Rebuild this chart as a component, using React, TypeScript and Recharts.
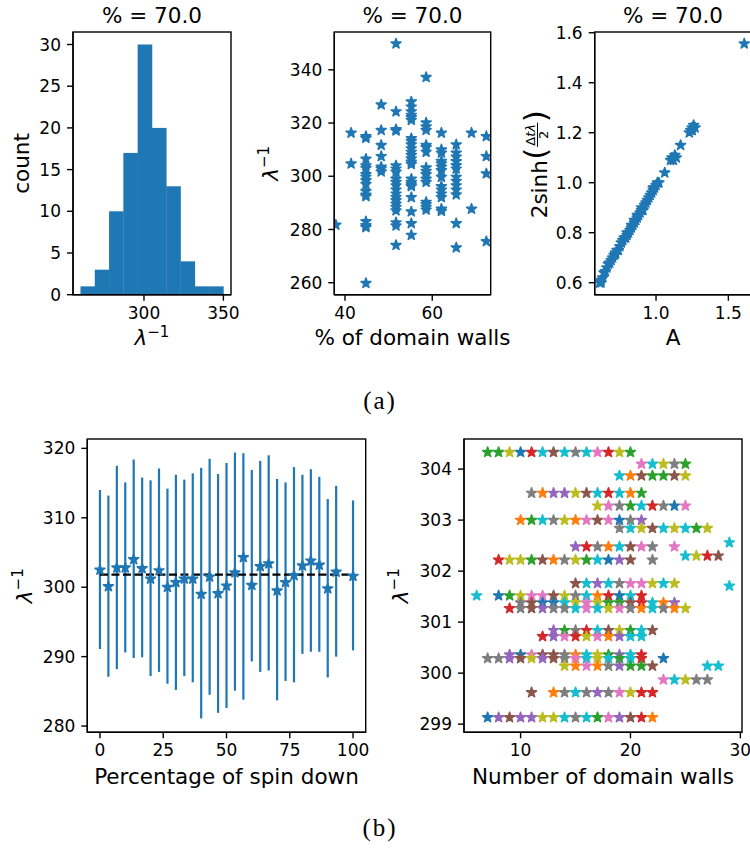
import React from "react";
import {
  ComposedChart,
  ScatterChart,
  Scatter,
  Bar,
  XAxis,
  YAxis,
  ErrorBar,
  ReferenceLine,
} from "recharts";

const FONT = "DejaVu Sans";
const BLUE = "#1f77b4";

// tab10 colour codes used by the domain-wall rows
const TAB10: Record<string, string> = {
  b: "#1f77b4",
  o: "#ff7f0e",
  g: "#2ca02c",
  r: "#d62728",
  p: "#9467bd",
  n: "#8c564b",
  k: "#e377c2",
  a: "#7f7f7f",
  y: "#bcbd22",
  c: "#17becf",
};

// (a) left: histogram of lambda^-1
const BIN_EDGES = [260.2, 269.2, 278.2, 287.2, 296.2, 305.2, 314.2, 323.2, 332.2, 341.2, 350.2];
const BIN_COUNTS = [1, 3, 10, 17, 30, 20, 13, 4, 1, 1];

// (a) middle: lambda^-1 vs % of domain walls
const DW_PCT = [37.9, 41.4, 44.8, 48.3, 51.7, 55.2, 58.6, 62.1, 65.5, 69.0, 72.4];
const DW_LAM = [
  [281.7],
  [316.3, 304.7],
  [315.0, 314.3, 306.5, 304.0, 303.0, 300.7, 299.7, 298.4, 297.0, 294.4, 293.0, 292.4, 283.0, 281.5, 280.8, 259.8],
  [326.9, 317.3, 311.7, 307.5, 303.5, 302.8, 301.7],
  [349.8, 324.3, 317.6, 317.1, 304.0, 302.8, 301.6, 299.0, 297.8, 296.5, 294.9, 293.4, 292.1, 290.9, 289.6, 288.4, 287.1, 282.6, 281.4, 274.1],
  [328.0, 326.1, 324.3, 323.0, 322.1, 321.1, 314.2, 313.2, 311.9, 310.4, 309.1, 307.9, 306.6, 305.4, 304.5, 299.0, 297.8, 296.9, 296.2, 292.1, 286.7, 282.3, 277.9],
  [337.2, 320.1, 318.6, 317.3, 311.7, 310.8, 309.1, 303.2, 301.9, 300.7, 299.0, 297.8, 290.3, 289.4, 288.4, 287.4],
  [316.3, 310.0, 308.8, 305.7, 304.7, 303.5, 302.2, 299.7, 296.2, 294.9, 293.4, 292.1, 287.7, 286.9],
  [311.9, 308.8, 307.3, 305.6, 304.1, 302.8, 299.7, 298.2, 296.5, 294.9, 293.1, 282.3, 273.2],
  [316.3, 287.7],
  [315.0, 307.5, 301.0, 275.5],
];

// (a) right: 2sinh(dt*lambda/2) vs A
const AMP = [
  0.61, 0.62, 0.62, 0.63, 0.64, 0.65, 0.66, 0.67, 0.68, 0.69, 0.7, 0.71, 0.72, 0.72, 0.73, 0.74,
  0.75, 0.76, 0.77, 0.78, 0.79, 0.8, 0.8, 0.81, 0.82, 0.83, 0.83, 0.84, 0.85, 0.85, 0.86, 0.87,
  0.87, 0.88, 0.89, 0.9, 0.9, 0.91, 0.92, 0.93, 0.94, 0.95, 0.96, 0.97, 0.98, 0.98, 0.99, 1.0,
  1.01, 1.02, 1.06, 1.1, 1.11, 1.12, 1.13, 1.14, 1.17, 1.23, 1.24, 1.25, 1.25, 1.26, 1.27, 1.61,
];
const SINH = [
  0.6, 0.6, 0.61, 0.62, 0.64, 0.645, 0.66, 0.675, 0.68, 0.69, 0.7, 0.71, 0.72, 0.715, 0.73, 0.73,
  0.745, 0.76, 0.77, 0.78, 0.78, 0.79, 0.8, 0.8, 0.81, 0.82, 0.83, 0.83, 0.84, 0.85, 0.85, 0.86,
  0.87, 0.87, 0.88, 0.89, 0.9, 0.89, 0.91, 0.92, 0.93, 0.94, 0.95, 0.96, 0.97, 0.98, 0.98, 0.99,
  1.0, 1.0, 1.04, 1.09, 1.1, 1.09, 1.11, 1.1, 1.15, 1.2, 1.21, 1.22, 1.21, 1.23, 1.22, 1.556,
];

// (b) left: lambda^-1 vs percentage of spin down, with error bars
const SPIN_PCT = [
  0, 3.33, 6.67, 10, 13.33, 16.67, 20, 23.33, 26.67, 30, 33.33, 36.67, 40, 43.33, 46.67,
  50, 53.33, 56.67, 60, 63.33, 66.67, 70, 73.33, 76.67, 80, 83.33, 86.67, 90, 93.33, 100,
];
const SPIN_LAM = [
  302.5, 300.1, 302.8, 302.8, 304.0, 302.7, 301.2, 302.4, 300.0, 300.7, 301.2, 301.2, 299.0, 301.5, 299.1,
  300.2, 302.1, 304.3, 300.3, 303.0, 303.4, 299.5, 300.7, 301.7, 303.1, 303.8, 303.2, 299.8, 302.2, 301.6,
];
const SPIN_HI = [
  314.0, 313.2, 317.5, 315.1, 318.4, 315.8, 315.4, 317.1, 314.2, 316.2, 315.5, 316.4, 317.2, 318.5, 316.3,
  317.9, 319.4, 319.3, 316.9, 318.2, 319.0, 315.6, 315.1, 317.3, 316.2, 317.0, 315.9, 312.7, 314.6, 312.5,
];
const SPIN_LO = [
  291.1, 287.1, 288.2, 290.6, 289.8, 289.9, 287.2, 287.8, 286.1, 285.2, 287.2, 286.3, 281.1, 284.5, 281.9,
  282.6, 285.1, 283.8, 289.3, 287.8, 288.0, 283.7, 286.5, 286.3, 290.4, 290.7, 290.7, 287.0, 290.0, 290.9,
];
const SPIN_MEAN = 301.8;

// (b) right: rows of [lambda^-1, first number of walls, colours of consecutive points]
const WALL_ROWS: [number, number, string][] = [
  [304.33, 7, "ggybrcncackryg"],
  [304.1, 21, "kcyag"],
  [303.87, 19, "conggny"],
  [303.53, 11, "aoppyncrcog"],
  [303.28, 17, "ykagcrabk"],
  [303.0, 10, "ogcayoknkbap"],
  [302.84, 19, "acyncycgy"],
  [302.48, 15, "praocnka"],
  [302.48, 24, "k"],
  [302.3, 25, "cyrn"],
  [302.56, 29, "c"],
  [302.22, 8, "ryygnoaygcbpn"],
  [302.22, 22, "a"],
  [301.76, 15, "ncpcakkycy"],
  [301.71, 29, "c"],
  [301.52, 6, "c"],
  [301.52, 8, "bgykknyacorbcr"],
  [301.38, 10, "anbbcykyggnrcop"],
  [301.27, 9, "ranpaackcykaocaoy"],
  [300.84, 13, "pgarcnygcn"],
  [300.72, 12, "rpkrykopcc"],
  [300.36, 9, "pbknnaocygpcr"],
  [300.29, 7, "aapnypnakcycgcr"],
  [300.29, 23, "b"],
  [300.14, 14, "yokoapggn"],
  [300.14, 27, "cc"],
  [299.87, 23, "kcyaa"],
  [299.62, 11, "n"],
  [299.62, 13, "oacapakyrr"],
  [299.13, 7, "bpnppyycacgkpnro"],
];

const histData = BIN_COUNTS.map((count, i) => ({
  mid: (BIN_EDGES[i] + BIN_EDGES[i + 1]) / 2,
  count,
}));
const dwData = DW_PCT.flatMap((x, i) => DW_LAM[i].map((y) => ({ x, y })));
const ampData = AMP.map((x, i) => ({ x, y: SINH[i] }));
const spinData = SPIN_PCT.map((x, i) => ({
  x,
  y: SPIN_LAM[i],
  err: [SPIN_LAM[i] - SPIN_LO[i], SPIN_HI[i] - SPIN_LAM[i]],
}));
const wallData = WALL_ROWS.flatMap(([lam, first, codes]) =>
  codes.split("").map((code, i) => ({ x: first + i, y: lam, color: TAB10[code] }))
);

const line = { stroke: "#000", strokeWidth: 1.4 };
const tickStyle = { fill: "#000", fontSize: 17, fontFamily: FONT };

function starPath(cx: number, cy: number, r: number) {
  const pts: string[] = [];
  for (let i = 0; i < 10; i++) {
    const rr = i % 2 === 0 ? r : r * 0.382;
    const a = -Math.PI / 2 + (i * Math.PI) / 5;
    pts.push(`${cx + rr * Math.cos(a)},${cy + rr * Math.sin(a)}`);
  }
  return "M" + pts.join("L") + "Z";
}

const Star = (props: any) => {
  const { cx, cy, payload } = props;
  if (cx == null || cy == null) return null;
  const c = payload?.color ?? BLUE;
  return <path d={starPath(cx, cy, 5.2)} fill={c} stroke={c} strokeWidth={1.6} strokeLinejoin="round" />;
};

// hist bars touch each other, so widen each slightly to hide the antialiasing seam
const HistBar = (props: any) => {
  const { x, y, width, height } = props;
  if (x == null || !height) return null;
  return <rect x={x - 0.3} y={y} width={width + 0.6} height={height} fill={BLUE} />;
};

// bottom + left axes with ticks
function frame(
  xd: number[],
  yd: number[],
  xt: number[],
  yt: number[],
  yw: number,
  xh: number,
  fmt?: (v: number) => string
) {
  return [
    <XAxis key="xb" type="number" dataKey="x" domain={xd} ticks={xt} allowDataOverflow interval={0}
      height={xh} tick={tickStyle} tickSize={6} tickMargin={6} tickLine={line} axisLine={line}
      tickFormatter={fmt} />,
    <YAxis key="yl" type="number" dataKey="y" domain={yd} ticks={yt} allowDataOverflow interval={0}
      width={yw} tick={tickStyle} tickSize={6} tickMargin={6} tickLine={line} axisLine={line}
      tickFormatter={fmt} />,
  ];
}

const Lam = ({ x, y, rotate }: { x: number; y: number; rotate?: boolean }) => (
  <text x={x} y={y} textAnchor="middle" fontSize={21.5} fontFamily={FONT} fill="#000"
    transform={rotate ? `rotate(-90 ${x} ${y})` : undefined}>
    <tspan fontStyle="italic">λ</tspan>
    <tspan fontSize={15} dy={-8.5}>−1</tspan>
  </text>
);

const Txt = ({ x, y, children, rotate, size = 21.5 }: any) => (
  <text x={x} y={y} textAnchor="middle" fontSize={size} fontFamily={FONT} fill="#000"
    transform={rotate ? `rotate(-90 ${x} ${y})` : undefined}>
    {children}
  </text>
);

// plot boxes (top and right spines)
const SPINES = [
  [73, 32, 158, 262.7],
  [334.3, 32, 156.4, 262.7],
  [594.7, 32, 156.8, 262.7],
  [87.3, 439, 278.4, 293.3],
  [464, 439, 278, 293.3],
];

const box = (left: number, top: number): React.CSSProperties => ({ position: "absolute", left, top });

const App: React.FC = () => {
  return (
    <div style={{ position: "absolute", left: 0, top: 0, width: 750, height: 857, overflow: "hidden", background: "#fff" }}>
      <div style={box(0, 0)}>
        <ComposedChart width={240} height={360} data={histData} barCategoryGap={0} barGap={0}
          margin={{ top: 32, right: 9, bottom: 0, left: 0 }}>
          <XAxis type="number" dataKey="mid" domain={[255.3, 354.8]} ticks={[300, 350]} allowDataOverflow
            interval={0} height={65.3} tick={tickStyle} tickSize={6} tickMargin={6} tickLine={line} axisLine={line} />
          <YAxis type="number" domain={[0, 31.5]} ticks={[0, 5, 10, 15, 20, 25, 30]} allowDataOverflow interval={0}
            width={73} tick={tickStyle} tickSize={6} tickMargin={6} tickLine={line} axisLine={line} />
          <Bar dataKey="count" fill={BLUE} shape={(p: any) => <HistBar {...p} />} isAnimationActive={false} />
        </ComposedChart>
      </div>

      <div style={box(250, 0)}>
        <ScatterChart width={250} height={360} margin={{ top: 32, right: 9.3, bottom: 0, left: 0 }}>
          {frame([37.55, 73.4], [255.5, 354.2], [40, 60], [260, 280, 300, 320, 340], 84.3, 65.3)}
          <Scatter data={dwData} fill={BLUE} shape={(p: any) => <Star {...p} />} isAnimationActive={false} />
        </ScatterChart>
      </div>

      <div style={box(500, 0)}>
        <ScatterChart width={260} height={360} margin={{ top: 32, right: 8.5, bottom: 0, left: 0 }}>
          {frame([0.576, 1.66], [0.552, 1.603], [1.0, 1.5], [0.6, 0.8, 1.0, 1.2, 1.4, 1.6], 94.7, 65.3,
            (v: number) => v.toFixed(1))}
          <Scatter data={ampData} fill={BLUE} shape={(p: any) => <Star {...p} />} isAnimationActive={false} />
        </ScatterChart>
      </div>

      <div style={box(0, 420)}>
        <ScatterChart width={375} height={380} margin={{ top: 19, right: 9.3, bottom: 0, left: 0 }}>
          {frame([-5, 105], [279.1, 321.35], [0, 25, 50, 75, 100], [280, 290, 300, 310, 320], 87.3, 67.7)}
          <Scatter data={spinData} fill={BLUE} shape={(p: any) => <Star {...p} />} isAnimationActive={false}>
            <ErrorBar dataKey="err" direction="y" width={0} stroke={BLUE} strokeWidth={2.2} />
          </Scatter>
          <ReferenceLine segment={[{ x: 0, y: SPIN_MEAN }, { x: 100, y: SPIN_MEAN }]} stroke="#000"
            strokeWidth={2.2} strokeDasharray="8 3.5" />
        </ScatterChart>
      </div>

      <div style={box(375, 420)}>
        <ScatterChart width={375} height={380} margin={{ top: 19, right: 8, bottom: 0, left: 0 }}>
          {frame([4.85, 30.15], [298.84, 304.59], [10, 20, 30], [299, 300, 301, 302, 303, 304], 89, 67.7)}
          <Scatter data={wallData} shape={(p: any) => <Star {...p} />} isAnimationActive={false} />
        </ScatterChart>
      </div>

      <svg width={750} height={857} style={{ position: "absolute", left: 0, top: 0, pointerEvents: "none" }}>
        {SPINES.map(([x, y, w, h], i) => (
          <rect key={i} x={x} y={y} width={w} height={h} fill="none" stroke="#000" strokeWidth={1.4} />
        ))}

        <Txt x={152} y={22.5}>% = 70.0</Txt>
        <Txt x={412.5} y={22.5}>% = 70.0</Txt>
        <Txt x={673} y={22.5}>% = 70.0</Txt>

        <Lam x={152} y={345} />
        <Txt x={412.5} y={345}>% of domain walls</Txt>
        <Txt x={673} y={345}>A</Txt>

        <Txt x={29} y={163.4} rotate>count</Txt>
        <Lam x={278} y={163.4} rotate />
        <g transform="translate(547,218.3) rotate(-90)" fontFamily={FONT} fill="#000">
          <text x={0} y={0} fontSize={21.5}>2sinh</text>
          <text x={58.5} y={-1} fontSize={31}>(</text>
          <text x={83.5} y={-12} fontSize={13} textAnchor="middle">
            Δ<tspan fontStyle="italic">tλ</tspan>
          </text>
          <line x1={71.5} x2={95.5} y1={-9.5} y2={-9.5} stroke="#000" strokeWidth={1} />
          <text x={83.5} y={1} fontSize={13} textAnchor="middle">2</text>
          <text x={96} y={-1} fontSize={31}>)</text>
        </g>

        <Txt x={226.5} y={784}>Percentage of spin down</Txt>
        <Txt x={603} y={784}>Number of domain walls</Txt>
        <Lam x={32} y={585.7} rotate />
        <Lam x={408} y={585.7} rotate />

        <text x={380} y={409} textAnchor="middle" fontSize={25} fontFamily="Liberation Serif" letterSpacing={2} fill="#000">(a)</text>
        <text x={380} y={836} textAnchor="middle" fontSize={25} fontFamily="Liberation Serif" letterSpacing={2} fill="#000">(b)</text>
      </svg>
    </div>
  );
};

export default App;
